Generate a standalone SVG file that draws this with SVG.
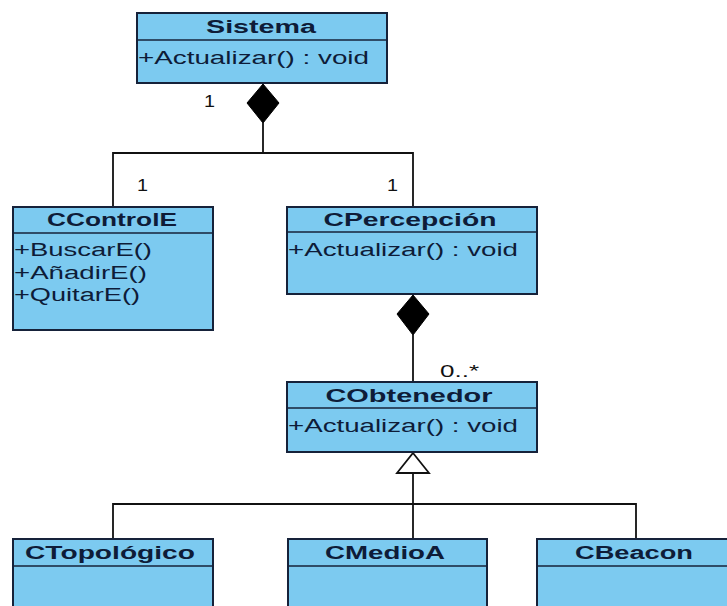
<svg xmlns="http://www.w3.org/2000/svg" width="727" height="606" viewBox="0 0 727 606">
  <defs>
    <style>
      .box { fill: #7ccaf0; stroke: #16223a; stroke-width: 2; }
      .sep { stroke: #16223a; stroke-width: 1.6; }
      .title { font-family: "Liberation Sans", Arial, sans-serif; font-size: 18px; font-weight: bold; fill: #0e1c38; text-anchor: middle; }
      .op { font-family: "Liberation Sans", Arial, sans-serif; font-size: 18px; fill: #0e1c38; }
      .mult { font-family: "Liberation Sans", Arial, sans-serif; font-size: 16px; fill: #111; }
      .wire { fill: none; stroke: #111; stroke-width: 1.8; }
      .comp { fill: #000; stroke: #000; stroke-width: 1; }
      .gen { fill: #fff; stroke: #111; stroke-width: 1.8; }
    </style>
  </defs>
  <rect width="727" height="606" fill="#fff"/>

  <!-- relationships -->
  <g id="connectors">
    <!-- composition: Sistema -> CControlE / CPercepcion -->
    <polygon class="comp" points="263,84 279,103 263,123 247,103"/>
    <polyline class="wire" points="263,123 263,153"/>
    <polyline class="wire" points="113,207 113,153 413,153 413,207"/>
    <!-- composition: CPercepcion -> CObtenedor -->
    <polygon class="comp" points="413,295 429,314 413,335 397,314"/>
    <polyline class="wire" points="413,335 413,382"/>
    <!-- generalization: subclasses -> CObtenedor -->
    <polyline class="wire" points="413,473 413,539"/>
    <polyline class="wire" points="113,539 113,504 636,504 636,539"/>
    <polygon class="gen" points="413,453 429,473 397,473"/>
    <!-- multiplicities -->
    <text class="mult" x="204" y="107" textLength="11" lengthAdjust="spacingAndGlyphs">1</text>
    <text class="mult" x="137" y="191" textLength="11" lengthAdjust="spacingAndGlyphs">1</text>
    <text class="mult" x="387" y="191" textLength="11" lengthAdjust="spacingAndGlyphs">1</text>
    <text class="mult" x="440" y="377" textLength="39" lengthAdjust="spacingAndGlyphs">0..*</text>
  </g>

  <g id="Sistema">
    <rect class="box" x="137" y="13" width="250" height="70"/>
    <line class="sep" x1="137" y1="40" x2="387" y2="40"/>
    <text class="title" x="261" y="33" textLength="110" lengthAdjust="spacingAndGlyphs">Sistema</text>
    <text class="op" x="138" y="64" textLength="231" lengthAdjust="spacingAndGlyphs">+Actualizar() : void</text>
  </g>

  <g id="CControlE">
    <rect class="box" x="13" y="207" width="200" height="123"/>
    <line class="sep" x1="13" y1="233" x2="213" y2="233"/>
    <text class="title" x="112" y="226" textLength="130" lengthAdjust="spacingAndGlyphs">CControlE</text>
    <text class="op" x="14" y="256" textLength="138" lengthAdjust="spacingAndGlyphs">+BuscarE()</text>
    <text class="op" x="14" y="279" textLength="133" lengthAdjust="spacingAndGlyphs">+AñadirE()</text>
    <text class="op" x="14" y="301" textLength="126" lengthAdjust="spacingAndGlyphs">+QuitarE()</text>
  </g>

  <g id="CPercepcion">
    <rect class="box" x="287" y="207" width="250" height="87"/>
    <line class="sep" x1="287" y1="232" x2="537" y2="232"/>
    <text class="title" x="410" y="226" textLength="173" lengthAdjust="spacingAndGlyphs">CPercepción</text>
    <text class="op" x="288" y="256" textLength="230" lengthAdjust="spacingAndGlyphs">+Actualizar() : void</text>
  </g>

  <g id="CObtenedor">
    <rect class="box" x="287" y="382" width="250" height="70"/>
    <line class="sep" x1="287" y1="408" x2="537" y2="408"/>
    <text class="title" x="409" y="402" textLength="167" lengthAdjust="spacingAndGlyphs">CObtenedor</text>
    <text class="op" x="288" y="432" textLength="230" lengthAdjust="spacingAndGlyphs">+Actualizar() : void</text>
  </g>

  <g id="CTopologico">
    <rect class="box" x="13" y="539" width="200" height="80"/>
    <line class="sep" x1="13" y1="566" x2="213" y2="566"/>
    <text class="title" x="110" y="559" textLength="170" lengthAdjust="spacingAndGlyphs">CTopológico</text>
  </g>

  <g id="CMedioA">
    <rect class="box" x="288" y="539" width="199" height="80"/>
    <line class="sep" x1="288" y1="566" x2="487" y2="566"/>
    <text class="title" x="385" y="559" textLength="120" lengthAdjust="spacingAndGlyphs">CMedioA</text>
  </g>

  <g id="CBeacon">
    <rect class="box" x="537" y="539" width="200" height="80"/>
    <line class="sep" x1="537" y1="566" x2="737" y2="566"/>
    <text class="title" x="634" y="559" textLength="118" lengthAdjust="spacingAndGlyphs">CBeacon</text>
  </g>
</svg>
